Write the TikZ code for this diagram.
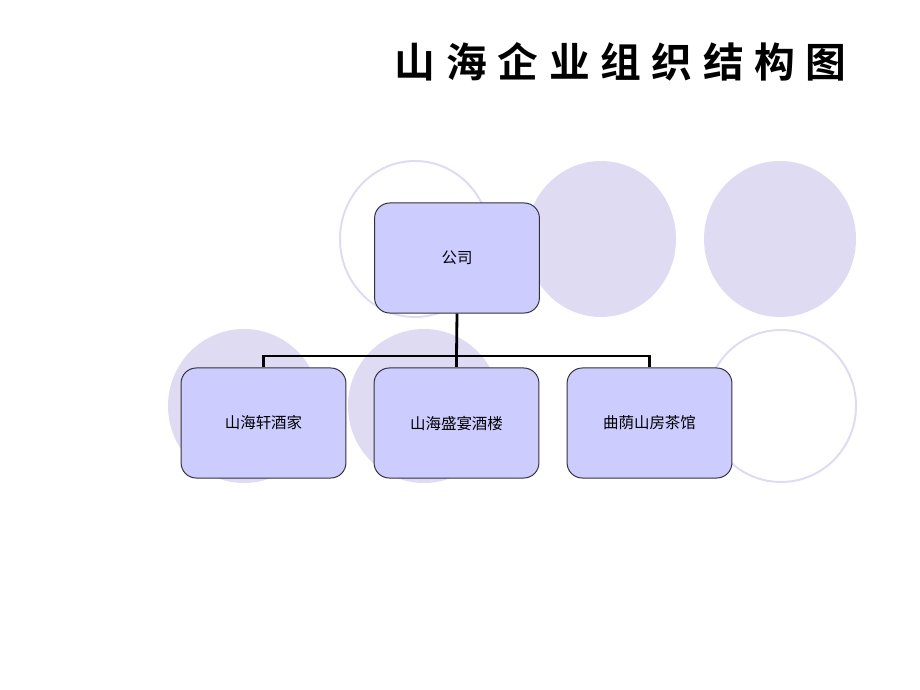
\documentclass[tikz,border=0pt]{standalone}
\usepackage{fontspec}
\newfontfamily\cjk{Noto Sans CJK SC}
\newfontfamily\cjktitle[LetterSpace=26]{Noto Sans CJK SC Bold}
\definecolor{bubble}{RGB}{222,219,242}
\definecolor{boxfill}{RGB}{204,204,255}
\definecolor{boxline}{RGB}{50,50,60}
\tikzset{
	unit/.style={draw=boxline, line width=0.7pt, fill=boxfill, rounded corners=0.38cm,
		minimum width=4.12cm, minimum height=2.75cm, font=\cjk\fontsize{11}{13}\selectfont},
	link/.style={line width=2pt, black},
	bubblefill/.style={fill=bubble},
	bubbleline/.style={draw=bubble, line width=1.4pt}
}
\begin{document}
\begin{tikzpicture}[x=0.025cm, y=-0.025cm]
	\useasboundingbox (0,0) rectangle (920,690);
	% background circles
	\draw[bubbleline] (415,239) ellipse [x radius=75, y radius=78];
	\fill[bubblefill] (601,239) ellipse [x radius=75, y radius=78];
	\fill[bubblefill] (780,239) ellipse [x radius=76, y radius=78];
	\fill[bubblefill] (244,406) ellipse [x radius=76, y radius=77];
	\fill[bubblefill] (424,406) ellipse [x radius=76, y radius=77];
	\draw[bubbleline] (781,406) ellipse [x radius=75, y radius=76];
	% title
	\node[font=\cjktitle\fontsize{29}{32}\selectfont, anchor=east, inner sep=0pt] (title) at (847,62) {山海企业组织结构图};
	% boxes
	\node[unit] (gongsi) at (457,258) {公司};
	\node[unit] (xuan) at (263.5,423) {山海轩酒家};
	\node[unit] (shengyan) at (456.5,423) {山海盛宴酒楼};
	\node[unit] (chaguan) at (649.5,423) {曲荫山房茶馆};
	% connectors
	\coordinate (fork) at (456.5,356);
	\draw[link] (gongsi.south) -- (fork);
	\draw[link] (xuan.north) |- (fork) -| (chaguan.north);
	\draw[link] (fork) -- (shengyan.north);
\end{tikzpicture}
\end{document}
